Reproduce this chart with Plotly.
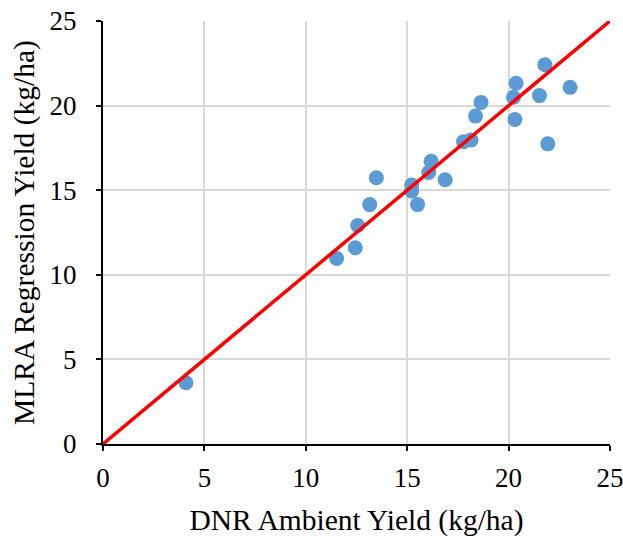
import plotly.graph_objects as go

dnr_yield = [4.09, 11.52, 12.44, 12.56, 13.15, 13.48, 15.22, 15.22, 15.51, 16.06, 16.18, 16.87,
             17.78, 18.15, 18.37, 18.64, 20.24, 20.37, 20.31, 21.52, 21.79, 21.93, 23.03]
mlra_yield = [3.62, 10.97, 11.60, 12.91, 14.15, 15.74, 15.30, 14.96, 14.15, 16.05, 16.71, 15.62,
              17.87, 17.97, 19.38, 20.19, 20.49, 21.32, 19.18, 20.59, 22.41, 17.74, 21.08]
line_x = [0, 25]
line_y = [0, 25]
tick_vals = [0, 5, 10, 15, 20, 25]

fig = go.Figure()
fig.add_trace(go.Scatter(x=dnr_yield, y=mlra_yield, mode="markers",
                         marker=dict(color="#5B9BD5", size=15), showlegend=False))
fig.add_trace(go.Scatter(x=line_x, y=line_y, mode="lines",
                         line=dict(color="#FF0000", width=3.5), showlegend=False))

family = "Liberation Serif, Times New Roman, serif"
tick_font = dict(family=family, size=27, color="black")
title_font = dict(family=family, size=29.5, color="black")
axis_common = dict(range=[0, 25], tickvals=tick_vals, showgrid=True, gridcolor="#D9D9D9",
                   gridwidth=1.5, zeroline=False, showline=True, linecolor="black", linewidth=2,
                   ticks="outside", ticklen=5, tickwidth=2, tickcolor="black",
                   tickfont=tick_font, mirror=False, automargin=False,
                   ticklabeloverflow="allow")
fig.update_layout(
    width=623, height=537,
    margin=dict(l=103, r=13, t=21, b=93),
    paper_bgcolor="white", plot_bgcolor="white",
    font=tick_font,
    xaxis=dict(axis_common, ticklabelstandoff=4,
               title=dict(text="DNR Ambient Yield (kg/ha)", font=title_font, standoff=20)),
    yaxis=dict(axis_common, ticklabelstandoff=14,
               title=dict(text="MLRA Regression Yield (kg/ha)", font=title_font, standoff=6)),
)
# remove the browser's default 8px body margin so the figure fills the window
fig.write_html("out.html", config={"displayModeBar": False},
               post_script="document.body.style.margin='0';")
